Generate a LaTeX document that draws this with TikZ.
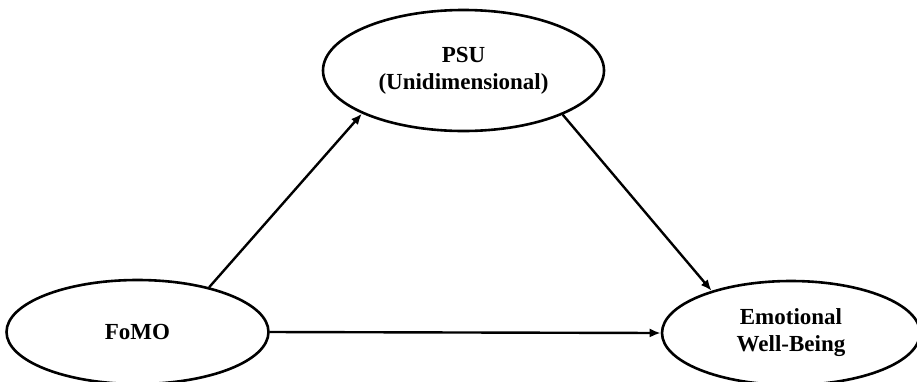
\documentclass[tikz,border=0pt]{standalone}
\usepackage{fontspec}
\setmainfont{Liberation Serif}
\usetikzlibrary{shapes.geometric,arrows.meta}
\begin{document}
\begin{tikzpicture}[x=1pt,y=-1pt,
  construct/.style={draw=black, line width=2.6pt, ellipse, inner sep=0pt,
    align=center, font=\fontsize{23}{27}\selectfont\bfseries},
  path/.style={draw=black, line width=2.4pt,
    -{Latex[length=11pt,width=9pt]}}]
  \useasboundingbox (0,0) rectangle (917,381);
  \clip (0,0) rectangle (917,381);
  \fill[white] (0,0) rectangle (917,381);

  % latent constructs
  \node[construct, minimum width=281pt, minimum height=121pt] (psu) at (463.5,70.5)
    {PSU\\(Unidimensional)};
  \node[construct, minimum width=262pt, minimum height=104pt] (fomo) at (137.5,332)
    {FoMO};
  \node[construct, minimum width=258pt, minimum height=104pt] (ewb) at (791,333)
    {Emotional\\Well-Being};

  % structural paths
  \draw[path] (fomo.32.7) -- (psu.203.9);
  \draw[path] (psu.336.3) -- (ewb.152);
  \draw[path] (fomo.east) -- (ewb.west);
\end{tikzpicture}
\end{document}
